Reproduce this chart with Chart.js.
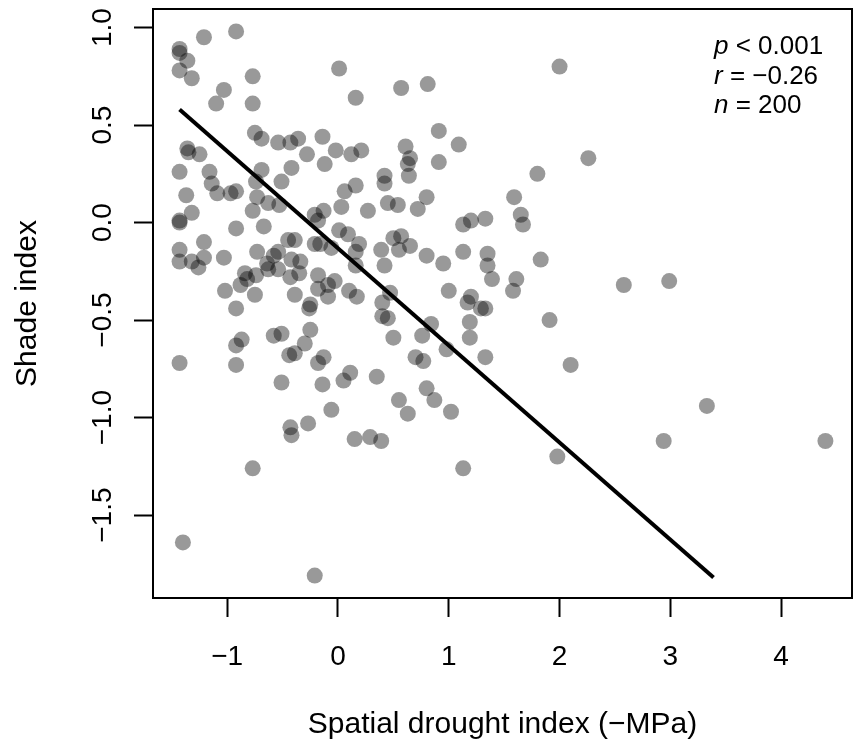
<!DOCTYPE html>
<html>
<head>
<meta charset="utf-8">
<script src="https://cdn.jsdelivr.net/npm/chart.js@4/dist/chart.umd.min.js"></script>
<style>
  body { margin: 0; background: #fff; }
  canvas { display: block; }
</style>
</head>
<body>
<canvas id="shadeChart" width="860" height="753"></canvas>
<script>
// Spatial drought index (x) vs shade index (y)
const droughtIndex = [
  -1.21, -0.92, -1.43, -1.43, -1.36, -1.43, -1.32, 0.01, -0.77, -1.03,
  -1.10, -0.77, 0.16, -0.75, -0.69, -0.54, -0.43, -0.36, -0.14, -0.28,
  -0.02, 0.12, 0.21, -0.12, -1.36, -1.35, -1.25, -1.43, -1.16, -1.14,
  -0.69, -0.42, -0.51, -0.74, 0.16, 0.06, -1.37, -1.09, -0.97, -0.92,
  -0.73, -0.63, -0.53, -1.32, -1.43, -1.43, -0.92, -0.67, -0.77, -1.21,
  -1.43, -1.43, -1.32, -1.26, -1.21, -1.03, -0.73, -0.58, -0.54, -0.64,
  -0.63, -0.54, -0.84, -0.88, -0.82, -0.74, -0.45, -0.39, -0.42, -0.34,
  -0.43, -0.35, -1.02, -0.75, -0.92, -0.39, -0.18, -0.18, -0.09, -0.03,
  -0.09, 0.10, 0.17, -0.25, -0.26, -0.25, -0.58, -0.51, -0.87, -0.92,
  -0.30, -0.44, -0.39, -0.13, -0.18, -1.43, -0.92, -0.51, -0.14, 0.11,
  0.05, -0.21, -0.13, -0.18, 0.03, 0.27, 0.01, 0.09, -0.21, -0.16,
  -0.06, 0.19, 0.16, 0.16, -0.06, -0.43, -0.42, -0.27, 0.15, 0.29,
  -0.77, -1.40, -0.21, 2.00, 0.57, 0.81, 0.91, 1.09, 0.61, 0.65,
  0.63, 0.64, 0.91, 0.42, 0.42, 2.26, 1.80, 1.59, 0.80, 0.45,
  0.54, 0.72, 1.13, 1.20, 1.33, 1.65, 1.67, 0.50, 0.57, 0.55,
  0.65, 0.39, 0.80, 0.95, 1.13, 1.35, 1.35, 1.39, 1.83, 1.61,
  1.58, 0.42, 1.00, 1.20, 1.17, 1.29, 1.33, 0.47, 0.40, 0.40,
  0.45, 1.19, 0.84, 0.76, 0.50, 1.19, 1.91, 0.98, 0.70, 0.77,
  1.33, 0.35, 2.10, 0.80, 0.55, 0.63, 0.87, 1.02, 0.39, 1.13,
  1.98, 2.58, 2.99, 3.33, 2.94, 4.40
];
const shadeIndex = [
  0.95, 0.98, 0.89, 0.87, 0.83, 0.78, 0.74, 0.79, 0.75, 0.68,
  0.61, 0.61, 0.64, 0.46, 0.43, 0.41, 0.41, 0.43, 0.44, 0.35,
  0.37, 0.35, 0.37, 0.30, 0.38, 0.36, 0.35, 0.26, 0.26, 0.20,
  0.27, 0.28, 0.21, 0.21, 0.19, 0.16, 0.14, 0.15, 0.15, 0.16,
  0.13, 0.10, 0.09, 0.05, 0.01, 0.00, -0.03, -0.02, 0.06, -0.10,
  -0.14, -0.20, -0.20, -0.23, -0.18, -0.18, -0.15, -0.17, -0.15, -0.21,
  -0.24, -0.24, -0.26, -0.32, -0.29, -0.27, -0.09, -0.09, -0.19, -0.20,
  -0.28, -0.26, -0.35, -0.37, -0.44, -0.37, -0.27, -0.34, -0.32, -0.30,
  -0.38, -0.35, -0.38, -0.42, -0.44, -0.55, -0.58, -0.57, -0.60, -0.63,
  -0.62, -0.68, -0.67, -0.69, -0.72, -0.72, -0.73, -0.82, -0.83, -0.77,
  -0.81, 0.04, 0.06, 0.01, 0.08, 0.06, -0.04, -0.06, -0.11, -0.11,
  -0.13, -0.11, -0.15, -0.22, -0.96, -1.05, -1.09, -1.03, -1.11, -1.10,
  -1.26, -1.64, -1.81, 0.80, 0.69, 0.71, 0.47, 0.40, 0.39, 0.33,
  0.30, 0.24, 0.31, 0.24, 0.20, 0.33, 0.25, 0.13, 0.13, 0.10,
  0.09, 0.07, -0.01, 0.01, 0.02, 0.04, -0.01, -0.08, -0.07, -0.14,
  -0.12, -0.14, -0.17, -0.21, -0.15, -0.16, -0.22, -0.29, -0.19, -0.29,
  -0.35, -0.22, -0.35, -0.38, -0.41, -0.44, -0.44, -0.36, -0.41, -0.48,
  -0.49, -0.51, -0.52, -0.58, -0.59, -0.59, -0.50, -0.65, -0.69, -0.71,
  -0.69, -0.79, -0.73, -0.85, -0.91, -0.98, -0.91, -0.97, -1.12, -1.26,
  -1.20, -0.32, -0.30, -0.94, -1.12, -1.12
];

// fitted regression line end points
const fitX = [-1.43, 3.39];
const fitY = [0.58, -1.82];

const xTicks = [-1, 0, 1, 2, 3, 4];
const yTicks = [-1.5, -1.0, -0.5, 0.0, 0.5, 1.0];

const stats = [
  { sym: 'p', rest: ' < 0.001' },
  { sym: 'r', rest: ' = \u22120.26' },
  { sym: 'n', rest: ' = 200' }
];

const FONT = '"Liberation Sans", Arial, Helvetica, sans-serif';
Chart.defaults.font.family = FONT;
Chart.defaults.color = '#000';

function minus(v, digits) {
  const s = Math.abs(v).toFixed(digits);
  return v < 0 ? '\u2212' + s : s;
}

// R-style box around the plotting region + stats text
const boxPlugin = {
  id: 'boxPlugin',
  afterDraw(chart) {
    const { ctx, chartArea: a } = chart;
    ctx.save();
    ctx.strokeStyle = '#000';
    ctx.lineWidth = 2;
    ctx.strokeRect(a.left, a.top, a.right - a.left, a.bottom - a.top);

    ctx.fillStyle = '#000';
    ctx.textBaseline = 'middle';
    ctx.textAlign = 'left';
    stats.forEach((s, i) => {
      const y = 47 + i * 29.5;
      ctx.font = 'italic 26px ' + FONT;
      ctx.fillText(s.sym, 714, y);
      const w = ctx.measureText(s.sym).width;
      ctx.font = '26px ' + FONT;
      ctx.fillText(s.rest, 714 + w, y);
    });
    ctx.restore();
  }
};

const points = droughtIndex.map((x, i) => ({ x: x, y: shadeIndex[i] }));
const fitLine = fitX.map((x, i) => ({ x: x, y: fitY[i] }));

new Chart(document.getElementById('shadeChart'), {
  type: 'scatter',
  data: {
    datasets: [
      {
        data: fitLine,
        showLine: true,
        borderColor: '#000',
        borderWidth: 4,
        pointRadius: 0,
        order: 0
      },
      {
        data: points,
        pointRadius: 8,
        pointBackgroundColor: 'rgba(0,0,0,0.4)',
        pointBorderWidth: 0,
        order: 1
      }
    ]
  },
  options: {
    responsive: false,
    animation: false,
    layout: { padding: { top: 9, right: 5, left: 0, bottom: 0 } },
    plugins: { legend: { display: false }, tooltip: { enabled: false } },
    scales: {
      x: {
        type: 'linear',
        min: -1.67,
        max: 4.64,
        afterBuildTicks(scale) { scale.ticks = xTicks.map(v => ({ value: v })); },
        afterFit(scale) {
          scale.height = 155;
          scale.paddingLeft = 0;
          scale.paddingRight = 0;
        },
        grid: { drawOnChartArea: false, tickLength: 19, tickWidth: 2, tickColor: '#000' },
        border: { display: false },
        ticks: {
          font: { size: 28 },
          padding: 23,
          maxRotation: 0,
          callback: v => minus(v, 0)
        },
        title: {
          display: true,
          text: 'Spatial drought index (\u2212MPa)',
          font: { size: 30 },
          padding: 10
        }
      },
      y: {
        type: 'linear',
        min: -1.925,
        max: 1.095,
        afterBuildTicks(scale) { scale.ticks = yTicks.map(v => ({ value: v })); },
        afterFit(scale) {
          scale.width = 153;
          scale.paddingTop = 0;
          scale.paddingBottom = 0;
        },
        grid: { drawOnChartArea: false, tickLength: 19, tickWidth: 2, tickColor: '#000' },
        border: { display: false },
        ticks: {
          font: { size: 28 },
          padding: 3,
          minRotation: 90,
          maxRotation: 90,
          crossAlign: 'center',
          callback: v => minus(v, 1)
        },
        title: {
          display: true,
          text: 'Shade index',
          font: { size: 30 },
          padding: 10
        }
      }
    }
  },
  plugins: [boxPlugin]
});
</script>
</body>
</html>
